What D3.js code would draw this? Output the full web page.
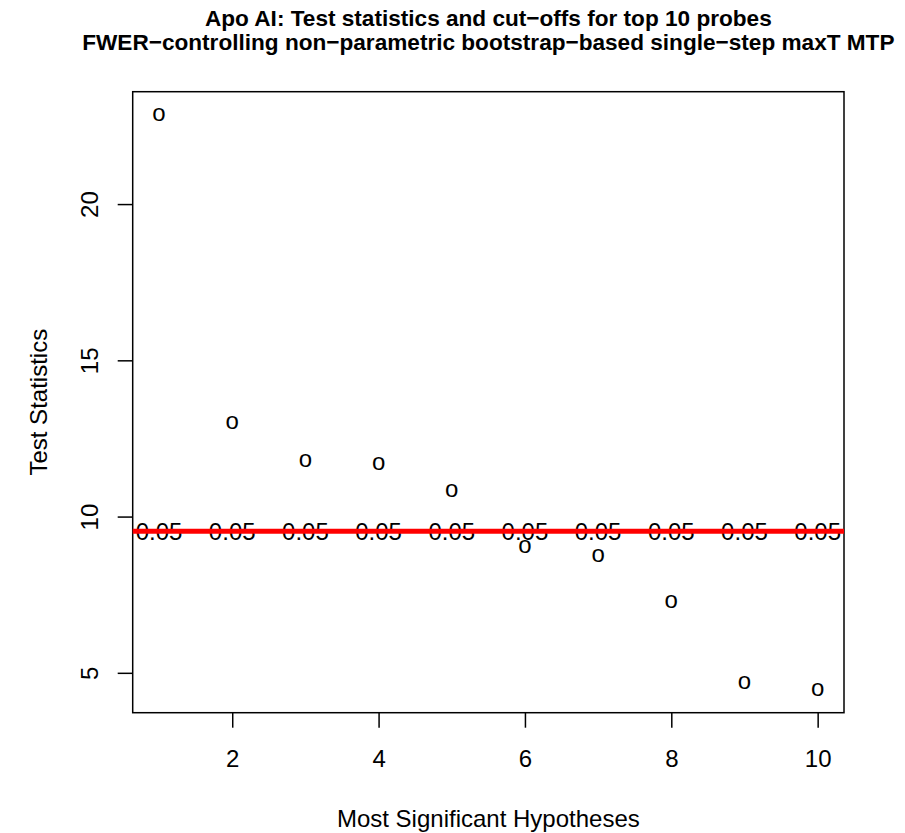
<!DOCTYPE html>
<html>
<head>
<meta charset="utf-8">
<script src="https://cdn.jsdelivr.net/npm/d3@7/dist/d3.min.js"></script>
<style>
  html, body { margin: 0; padding: 0; background: #fff; }
  svg text { font-family: "Liberation Sans", Arial, Helvetica, sans-serif; fill: #000; }
</style>
</head>
<body>
<svg id="chart" width="905" height="833"></svg>
<script>
// Ranked hypotheses and their test statistics
const hypotheses = [1, 2, 3, 4, 5, 6, 7, 8, 9, 10];
const testStats = [22.86, 13.00, 11.78, 11.69, 10.82, 9.03, 8.74, 7.27, 4.68, 4.46];
// Cut-off for each hypothesis at alpha = 0.05
const cutoffs = [9.53, 9.53, 9.53, 9.53, 9.53, 9.53, 9.53, 9.53, 9.53, 9.53];
const alphaLabels = ["0.05", "0.05", "0.05", "0.05", "0.05", "0.05", "0.05", "0.05", "0.05", "0.05"];
const xTicks = [2, 4, 6, 8, 10];
const yTicks = [5, 10, 15, 20];

const titleLines = [
  "Apo AI: Test statistics and cut\u2212offs for top 10 probes",
  "FWER\u2212controlling non\u2212parametric bootstrap\u2212based single\u2212step maxT MTP"
];
const xLabel = "Most Significant Hypotheses";
const yLabel = "Test Statistics";

const svg = d3.select("#chart");
svg.append("rect").attr("width", 905).attr("height", 833).attr("fill", "#fff");

const box = { left: 132.7, right: 844, top: 91.7, bottom: 712.7 };
const FS = 24;
const TITLE_FS = 22.6;

// R-style 4% axis padding
function padded(ext) {
  const p = (ext[1] - ext[0]) * 0.04;
  return [ext[0] - p, ext[1] + p];
}
const x = d3.scaleLinear().domain(padded(d3.extent(hypotheses))).range([box.left, box.right]);
const yExt = d3.extent(testStats.concat(cutoffs));
const y = d3.scaleLinear().domain(padded(yExt)).range([box.bottom, box.top]);

// Axes
const xAxis = d3.axisBottom(x).tickValues(xTicks).tickSize(15).tickPadding(22).tickFormat(d3.format("d"));
const gx = svg.append("g").attr("transform", `translate(0,${box.bottom})`).call(xAxis);
gx.select(".domain").remove();
gx.selectAll(".tick line").attr("stroke", "#000").attr("stroke-width", 1.5);
gx.selectAll(".tick text").attr("font-size", FS).attr("dy", null).attr("y", 54.5)
  .attr("font-family", "Liberation Sans, Arial, sans-serif");

const gy = svg.append("g").attr("transform", `translate(${box.left},0)`);
gy.call(d3.axisLeft(y).tickValues(yTicks).tickSize(15).tickFormat(d3.format("d")));
gy.select(".domain").remove();
gy.selectAll(".tick line").attr("stroke", "#000").attr("stroke-width", 1.5);
gy.selectAll(".tick text").remove();
gy.selectAll(".tick").append("text")
  .attr("transform", "translate(-34.7,0) rotate(-90)")
  .attr("text-anchor", "middle")
  .attr("font-size", FS)
  .text(d => d);

// Plot frame
svg.append("rect")
  .attr("x", box.left).attr("y", box.top)
  .attr("width", box.right - box.left).attr("height", box.bottom - box.top)
  .attr("fill", "none").attr("stroke", "#000").attr("stroke-width", 1.5);

// Points drawn as "o" characters, centred on the value
svg.append("g").selectAll("text")
  .data(hypotheses)
  .join("text")
  .attr("x", (d) => x(d))
  .attr("y", (d, i) => y(testStats[i]) + 0.26 * FS)
  .attr("text-anchor", "middle")
  .attr("font-size", FS)
  .text("o");

// Alpha labels at each cut-off
svg.append("g").selectAll("text")
  .data(hypotheses)
  .join("text")
  .attr("x", (d) => x(d))
  .attr("y", (d, i) => y(cutoffs[i]) + 0.358 * FS)
  .attr("text-anchor", "middle")
  .attr("font-size", FS)
  .text((d, i) => alphaLabels[i]);

// Cut-off line
const line = d3.line().x(d => d[0]).y(d => y(d[1]));
svg.append("path")
  .attr("d", line([[box.left, cutoffs[0]], [box.right, cutoffs[0]]]))
  .attr("stroke", "#ff0000").attr("stroke-width", 5).attr("fill", "none");

// Titles
const cx = (box.left + box.right) / 2;
svg.append("text").attr("x", cx).attr("y", 25.5).attr("text-anchor", "middle")
  .attr("font-size", TITLE_FS).attr("font-weight", "bold").text(titleLines[0]);
svg.append("text").attr("x", cx).attr("y", 50).attr("text-anchor", "middle")
  .attr("font-size", TITLE_FS).attr("font-weight", "bold").text(titleLines[1]);

svg.append("text").attr("x", cx).attr("y", 827).attr("text-anchor", "middle")
  .attr("font-size", FS).text(xLabel);

svg.append("text")
  .attr("transform", `translate(47,${(box.top + box.bottom) / 2}) rotate(-90)`)
  .attr("text-anchor", "middle")
  .attr("font-size", FS).text(yLabel);
</script>
</body>
</html>
